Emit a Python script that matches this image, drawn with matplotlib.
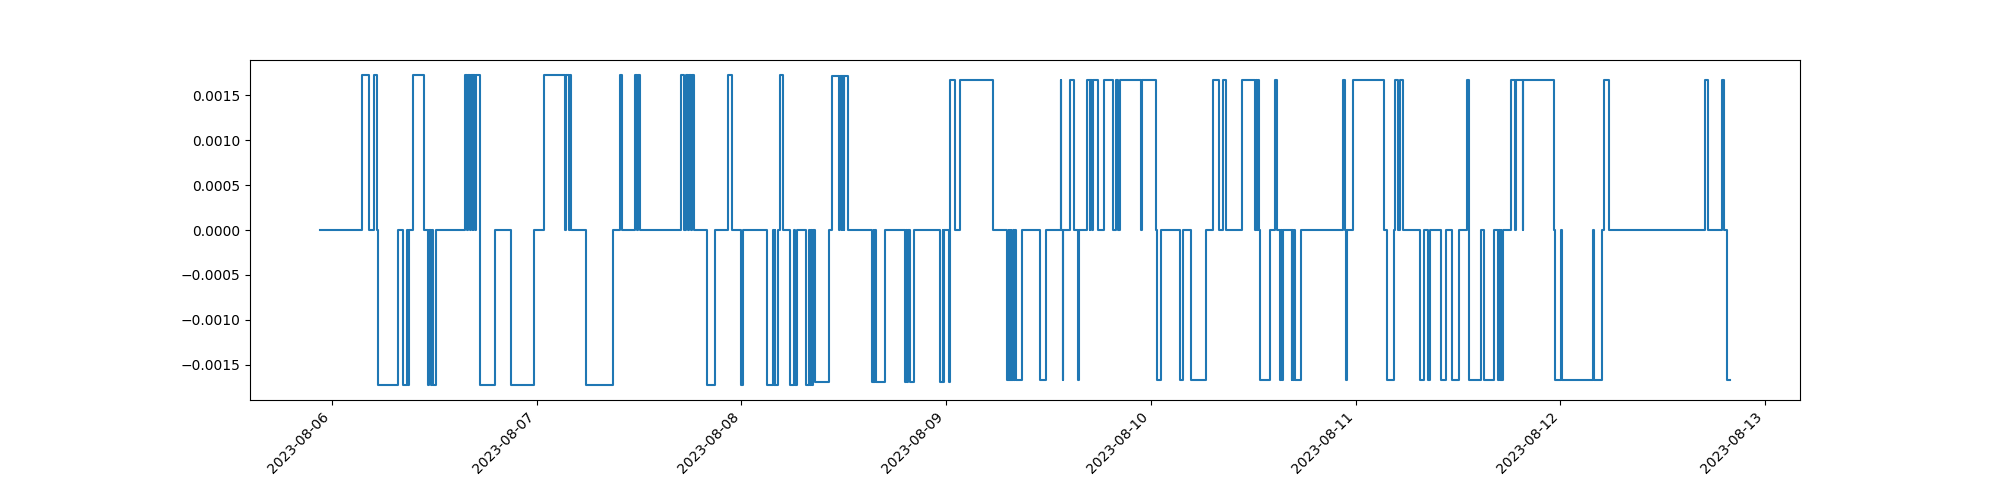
import numpy as np
import pandas as pd
import matplotlib
matplotlib.use("Agg")
import matplotlib.pyplot as plt

# position state changes (+1 long, 0 flat, -1 short), read per day
start_time = "2023-08-05 22:40"
end_time = "2023-08-12 19:50"

days = ["2023-08-06", "2023-08-07", "2023-08-08", "2023-08-09",
        "2023-08-10", "2023-08-11", "2023-08-12"]

times_0806 = ["03:30", "04:20", "04:55", "05:15", "05:25", "07:45", "08:20", "08:50",
              "08:55", "09:05", "09:30", "10:45", "11:15", "11:25", "11:35", "11:45",
              "11:55", "12:10", "15:40", "15:50", "16:00", "16:15", "16:20", "16:30",
              "16:35", "16:50", "16:55", "17:20", "17:25", "19:05", "21:00", "23:45"]
sign_0806 = [1, 0, 1, 0, -1, 0, -1, 0,
             -1, 0, 1, 0, -1, 0, -1, 0,
             -1, 0, 1, 0, 1, 0, 1, 0,
             1, 0, 1, 0, -1, 0, -1, 0]

times_0807 = ["00:50", "03:20", "03:30", "03:45", "03:55", "04:05", "05:50", "08:55",
              "09:50", "10:00", "11:30", "11:45", "11:50", "12:10", "16:55", "17:20",
              "17:30", "17:45", "17:55", "18:05", "18:10", "18:25", "20:00", "20:55",
              "22:25", "22:55"]
sign_0807 = [1, 0, 1, 0, 1, 0, -1, 0,
             1, 0, 1, 0, 1, 0, 1, 0,
             1, 0, 1, 0, 1, 0, -1, 0,
             1, 0]

times_0808 = ["00:00", "00:15", "03:00", "03:45", "03:50", "03:55", "04:00", "04:15",
              "04:30", "04:55", "05:40", "06:10", "06:20", "06:35", "07:35", "07:55",
              "08:00", "08:10", "08:15", "08:25", "08:35", "10:20", "10:40", "11:30",
              "11:35", "11:45", "11:50", "12:00", "12:05", "12:30", "15:20", "15:30",
              "15:35", "15:40", "15:45", "16:50", "19:10", "19:20", "19:25", "19:35",
              "19:45", "20:15", "23:20", "23:35", "23:40", "23:45"]
sign_0808 = [-1, 0, -1, 0, -1, 0, -1, 0,
             1, 0, -1, 0, -1, 0, -1, 0,
             -1, 0, -1, 0, -1, 0, 1, 0,
             1, 0, 1, 0, 1, 0, -1, 0,
             -1, 0, -1, 0, -1, 0, -1, 0,
             -1, 0, -1, 0, -1, 0]

times_0809 = ["00:20", "00:25", "00:30", "01:00", "01:35", "05:30", "07:05", "07:20",
              "07:25", "07:35", "07:40", "07:50", "07:55", "08:05", "08:10", "08:55",
              "11:00", "11:40", "13:25", "13:30", "13:40", "13:45", "14:30", "15:00",
              "15:25", "15:35", "16:30", "16:50", "16:55", "17:05", "17:10", "17:45",
              "18:30", "19:35", "19:55", "20:10", "20:20", "22:50", "23:00"]
sign_0809 = [-1, 0, 1, 0, 1, 0, -1, 0,
             -1, 0, -1, 0, -1, 0, -1, 0,
             -1, 0, 1, 0, -1, 0, 1, 0,
             -1, 0, 1, 0, 1, 0, 1, 0,
             1, 0, 1, 0, 1, 0, 1]

times_0810 = ["00:35", "00:45", "01:10", "03:25", "03:45", "04:40", "06:30", "07:20",
              "08:00", "08:25", "08:50", "10:40", "12:15", "12:20", "12:30", "12:35",
              "12:40", "12:45", "13:55", "14:30", "14:50", "15:10", "15:15", "15:20",
              "15:30", "16:30", "16:35", "16:40", "16:50", "16:55", "17:35", "22:30",
              "22:45", "22:50", "23:00", "23:45"]
sign_0810 = [0, -1, 0, -1, 0, -1, 0, 1,
             0, 1, 0, 1, 0, 1, 0, 1,
             0, -1, 0, 1, 0, -1, 0, -1,
             0, -1, 0, -1, 0, -1, 0, 1,
             0, -1, 0, 1]

times_0811 = ["03:20", "03:40", "04:30", "04:40", "04:55", "05:10", "05:30", "07:30",
              "08:00", "08:30", "08:45", "10:00", "10:35", "11:15", "12:10", "13:05",
              "13:20", "14:40", "15:00", "16:10", "16:45", "16:50", "16:55", "17:00",
              "17:05", "17:15", "18:15", "18:40", "18:50", "19:35", "19:40", "23:15",
              "23:25"]
sign_0811 = [0, -1, 0, 1, 0, 1, 0, -1,
             0, -1, 0, -1, 0, -1, 0, 1,
             -1, 0, -1, 0, -1, 0, -1, 0,
             -1, 0, 1, 0, 1, 0, 1, 0,
             -1]

times_0812 = ["00:05", "00:10", "03:50", "03:55", "04:55", "05:05", "05:40", "16:55",
              "17:20", "18:55", "19:10", "19:35"]
sign_0812 = [0, -1, 0, -1, 0, 1, 0, 1,
             0, 1, 0, -1]

# size of a position changes slightly over the week
period_starts = ["2023-08-05 22:40", "2023-08-08 08:30", "2023-08-09 00:25"]
long_size = [0.00172, 0.00171, 0.00167]
short_size = [-0.00172, -0.00169, -0.00167]

day_times = [times_0806, times_0807, times_0808, times_0809, times_0810, times_0811, times_0812]
day_signs = [sign_0806, sign_0807, sign_0808, sign_0809, sign_0810, sign_0811, sign_0812]

stamps = [start_time]
signs = [0]
for day, ts, ss in zip(days, day_times, day_signs):
    assert len(ts) == len(ss), day
    stamps += [day + " " + t for t in ts]
    signs += ss
stamps.append(end_time)
signs.append(signs[-1])

stamps = pd.to_datetime(stamps)
bounds = pd.to_datetime(period_starts)
period = np.searchsorted(bounds.values, stamps.values, side="right") - 1

values = []
for s, p in zip(signs, period):
    if s > 0:
        values.append(long_size[p])
    elif s < 0:
        values.append(short_size[p])
    else:
        values.append(0.0)

series = pd.Series(values, index=stamps)

fig, ax = plt.subplots(figsize=(20, 5))
ax.plot(series.index, series.values, drawstyle="steps-post")
fig.autofmt_xdate(rotation=45, ha="right")
plt.savefig("out.png", dpi=100)
